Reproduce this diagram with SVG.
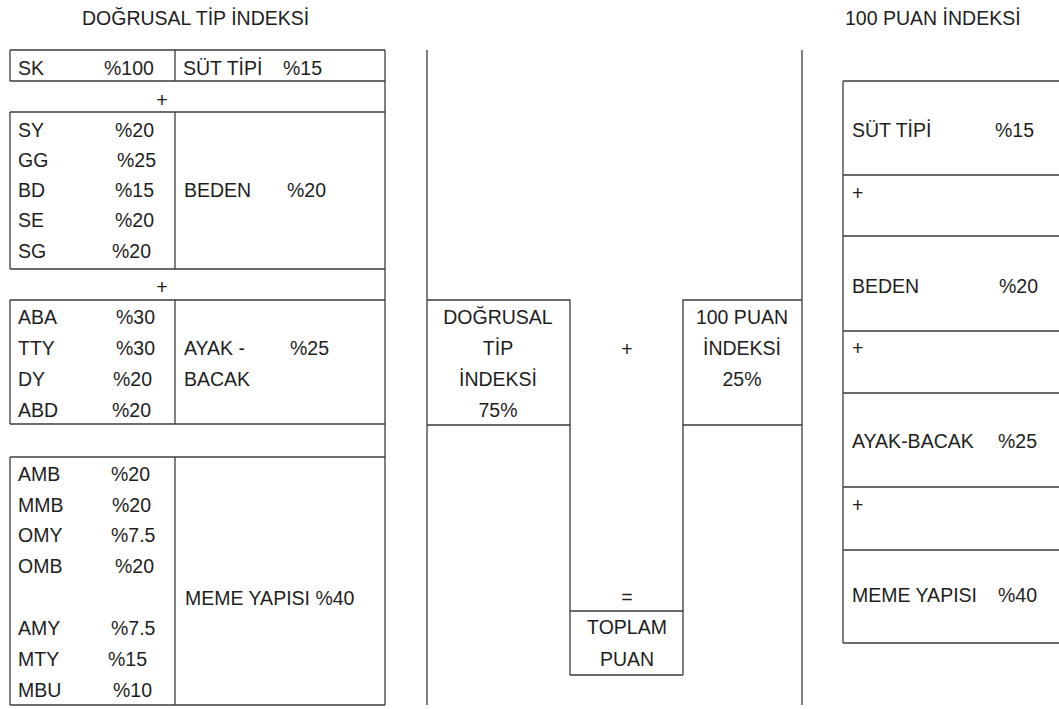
<svg xmlns="http://www.w3.org/2000/svg" width="1059" height="709" viewBox="0 0 1059 709">
<style>
  text { font-family: "Liberation Sans", Arial, sans-serif; font-size: 19.5px; fill: #1e1e1e; }
  .c { text-anchor: middle; }
  .ln { stroke: #3c3c3c; stroke-width: 1.3; fill: none; }
</style>
<rect width="1059" height="709" fill="#ffffff"/>

<g id="headers">
  <text x="82" y="25">DOĞRUSAL TİP İNDEKSİ</text>
  <text x="845" y="25">100 PUAN İNDEKSİ</text>
</g>

<g id="separators" class="ln">
  <line x1="427" y1="50" x2="427" y2="705"/>
  <line x1="802" y1="50" x2="802" y2="705"/>
</g>

<g id="left-table">
  <g id="row-sk">
    <path class="ln" d="M10 50 H385 M10 81 H385 M10 50 V81 M175 50 V81"/>
    <text x="18" y="75">SK</text><text x="104" y="75">%100</text>
    <text x="183" y="75">SÜT TİPİ</text><text x="283" y="75">%15</text>
  </g>
  <g id="plus-1">
    <path class="ln" d="M10 112 H385"/>
    <text x="162" y="107" class="c">+</text>
  </g>
  <g id="block-beden">
    <path class="ln" d="M10 112 V269 M175 112 V269 M10 269 H385"/>
    <text x="18" y="137">SY</text><text x="115" y="137">%20</text>
    <text x="18" y="167">GG</text><text x="117" y="167">%25</text>
    <text x="18" y="197">BD</text><text x="115" y="197">%15</text>
    <text x="18" y="227">SE</text><text x="115" y="227">%20</text>
    <text x="18" y="258">SG</text><text x="112" y="258">%20</text>
    <text x="184" y="197">BEDEN</text><text x="287" y="197">%20</text>
  </g>
  <g id="plus-2">
    <path class="ln" d="M10 300 H385"/>
    <text x="162" y="294" class="c">+</text>
  </g>
  <g id="block-ayak">
    <path class="ln" d="M10 300 V424 M175 300 V424 M10 424 H385"/>
    <text x="18" y="324">ABA</text><text x="116" y="324">%30</text>
    <text x="18" y="355">TTY</text><text x="116" y="355">%30</text>
    <text x="18" y="386">DY</text><text x="113" y="386">%20</text>
    <text x="18" y="417">ABD</text><text x="112" y="417">%20</text>
    <text x="184" y="355">AYAK -</text><text x="290" y="355">%25</text>
    <text x="184" y="386">BACAK</text>
  </g>
  <g id="empty-row">
    <path class="ln" d="M10 457 H385"/>
  </g>
  <g id="block-meme">
    <path class="ln" d="M10 457 V705 M175 457 V705 M10 705 H385"/>
    <text x="18" y="481">AMB</text><text x="111" y="481">%20</text>
    <text x="18" y="512">MMB</text><text x="112" y="512">%20</text>
    <text x="18" y="542">OMY</text><text x="111" y="542">%7.5</text>
    <text x="18" y="573">OMB</text><text x="115" y="573">%20</text>
    <text x="18" y="635">AMY</text><text x="111" y="635">%7.5</text>
    <text x="18" y="666">MTY</text><text x="108" y="666">%15</text>
    <text x="18" y="697">MBU</text><text x="113" y="697">%10</text>
    <text x="185" y="605">MEME YAPISI %40</text>
  </g>
  <path class="ln" d="M385 50 V705"/>
</g>

<g id="center">
  <g id="box-dogrusal">
    <path class="ln" d="M427 300 H570 V425 H427"/>
    <text x="498" y="324" class="c">DOĞRUSAL</text>
    <text x="498" y="355" class="c">TİP</text>
    <text x="498" y="386" class="c">İNDEKSİ</text>
    <text x="498" y="417" class="c">75%</text>
  </g>
  <g id="plus-center">
    <text x="627" y="356" class="c">+</text>
  </g>
  <g id="box-100puan">
    <path class="ln" d="M802 300 H683 V425 H802"/>
    <text x="742" y="324" class="c">100 PUAN</text>
    <text x="742" y="355" class="c">İNDEKSİ</text>
    <text x="742" y="386" class="c">25%</text>
  </g>
  <g id="equals">
    <path class="ln" d="M570 425 V675 M683 425 V675"/>
    <text x="627" y="604" class="c">=</text>
  </g>
  <g id="box-toplam">
    <path class="ln" d="M570 611 H683 M570 675 H683"/>
    <text x="627" y="634" class="c">TOPLAM</text>
    <text x="627" y="666" class="c">PUAN</text>
  </g>
</g>

<g id="right-table">
  <path class="ln" d="M843 81 V643 M843 81 H1059 M843 175 H1059 M843 236 H1059 M843 331 H1059 M843 393 H1059 M843 487 H1059 M843 550 H1059 M843 643 H1059"/>
  <g id="r-sut"><text x="852" y="137">SÜT TİPİ</text><text x="995" y="137">%15</text></g>
  <g id="r-plus1"><text x="852" y="200">+</text></g>
  <g id="r-beden"><text x="852" y="293">BEDEN</text><text x="999" y="293">%20</text></g>
  <g id="r-plus2"><text x="852" y="355">+</text></g>
  <g id="r-ayak"><text x="852" y="448">AYAK-BACAK</text><text x="998" y="448">%25</text></g>
  <g id="r-plus3"><text x="852" y="512">+</text></g>
  <g id="r-meme"><text x="852" y="602">MEME YAPISI</text><text x="998" y="602">%40</text></g>
</g>
</svg>
